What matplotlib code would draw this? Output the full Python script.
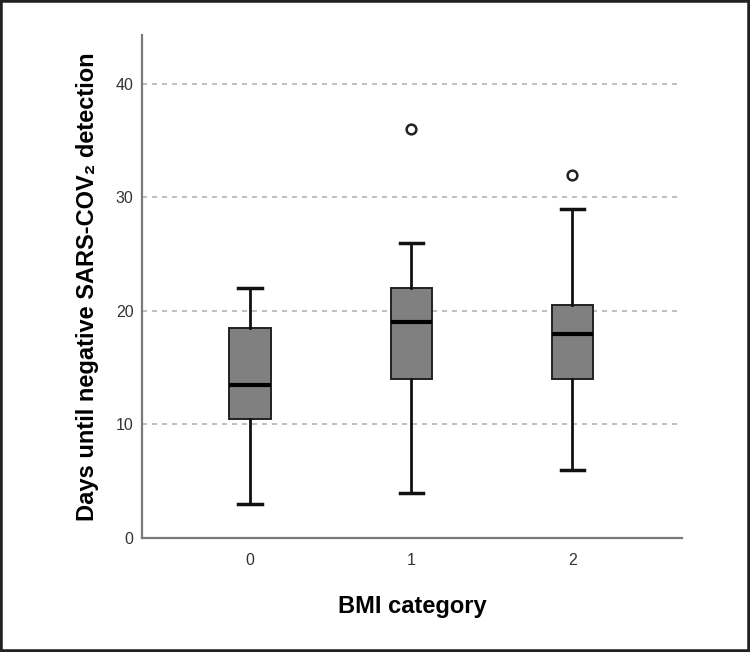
import matplotlib
matplotlib.use("Agg")
import matplotlib.pyplot as plt
from matplotlib.patches import Rectangle

categories = ["0", "1", "2"]
q1 = [10.5, 14, 14]
median = [13.5, 19, 18]
q3 = [18.5, 22, 20.5]
whislo = [3, 4, 6]
whishi = [22, 26, 29]
fliers = [[], [36], [32]]
yticks = [0, 10, 20, 30, 40]

fig = plt.figure(figsize=(7.5, 6.52), dpi=100)
ax = fig.add_axes([142/750, 1-538/652, 540/750, 503/652])

stats = []
for i, c in enumerate(categories):
    stats.append(dict(label=c, q1=q1[i], med=median[i], q3=q3[i],
                      whislo=whislo[i], whishi=whishi[i], fliers=fliers[i]))

ax.bxp(stats, positions=range(len(categories)), widths=0.255, patch_artist=True,
       showfliers=True, manage_ticks=False,
       boxprops=dict(facecolor="#808080", edgecolor="#222222", linewidth=1.4),
       medianprops=dict(color="#000000", linewidth=3),
       whiskerprops=dict(color="#111111", linewidth=2),
       capprops=dict(color="#111111", linewidth=2.5),
       capwidths=0.145,
       flierprops=dict(marker="o", markerfacecolor="white", markeredgecolor="#222222",
                       markersize=7, markeredgewidth=1.8))

ax.set_xlim(-0.67, 2.68)
ax.set_ylim(0, 44.3)
ax.set_xticks(range(len(categories)))
ax.set_xticklabels(categories)
ax.set_yticks(yticks)
ax.set_yticklabels([str(t) for t in yticks])
ax.tick_params(length=0, labelsize=11.5, labelcolor="#333333")
ax.tick_params(axis="y", pad=6)
ax.tick_params(axis="x", pad=11)
for lbl in ax.get_xticklabels() + ax.get_yticklabels():
    lbl.set_family("Liberation Sans")
for t in yticks[1:]:
    ax.axhline(t, xmin=0, xmax=536/540, color="#b5b5b5", linestyle=(0, (3, 3)),
               linewidth=1.2, zorder=0)

for s in ["top", "right"]:
    ax.spines[s].set_visible(False)
for s in ["left", "bottom"]:
    ax.spines[s].set_color("#7a7a7a")
    ax.spines[s].set_linewidth(1.6)

ax.set_ylabel("Days until negative SARS-COV\u2082 detection", fontsize=17,
              fontweight="bold", family="Liberation Sans", labelpad=12)
ax.set_xlabel("BMI category", fontsize=17, fontweight="bold",
              family="Liberation Sans", labelpad=19)

fig.patches.append(Rectangle((0, 0), 1, 1, transform=fig.transFigure, fill=False,
                             edgecolor="#222222", linewidth=4))

fig.savefig("out.png", dpi=100)
